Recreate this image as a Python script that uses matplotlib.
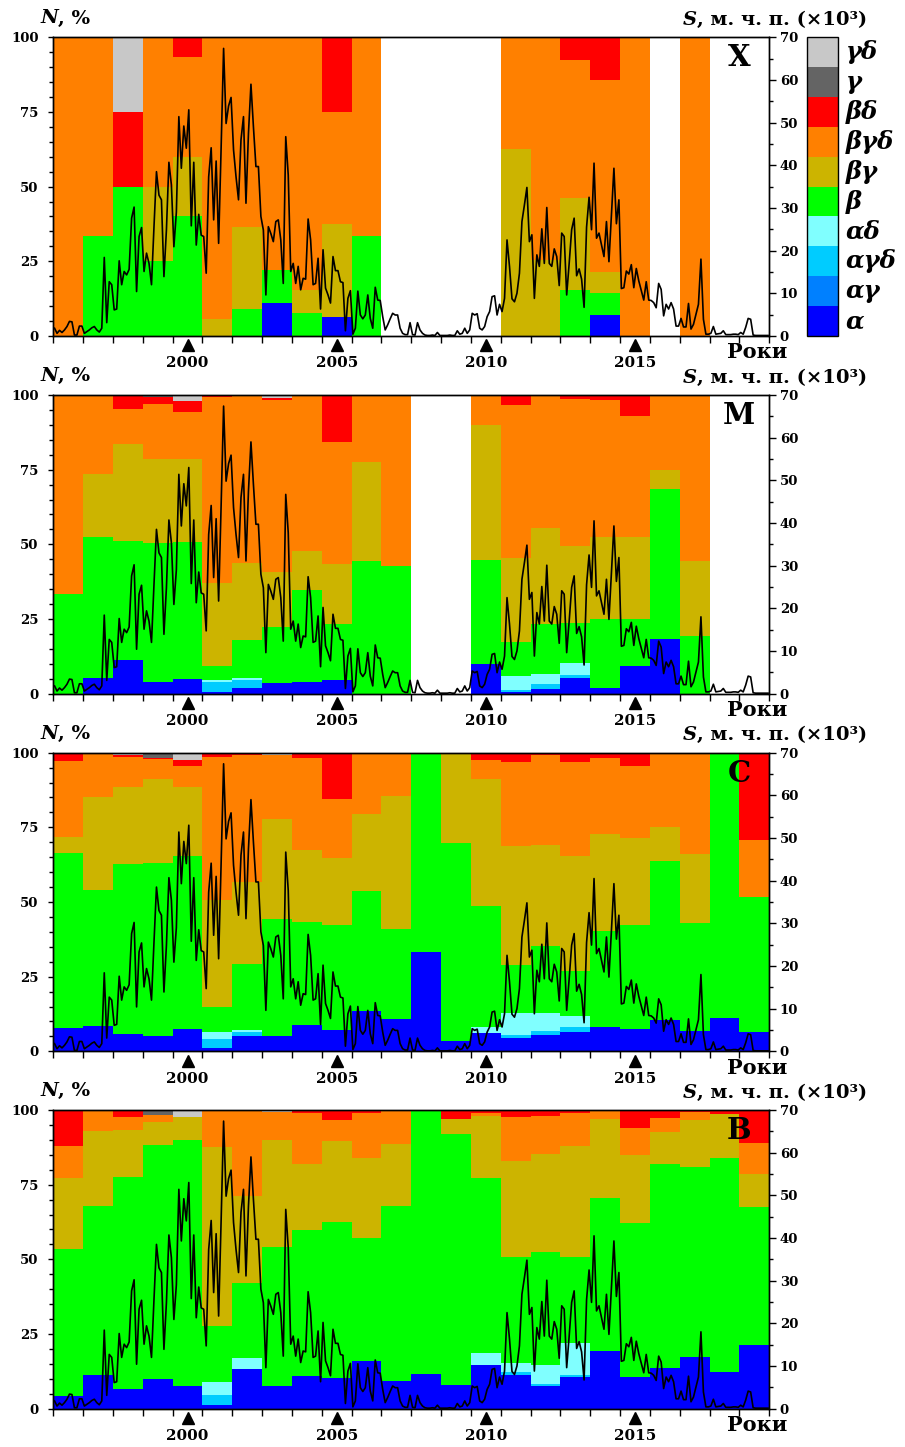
import numpy as np
import matplotlib
matplotlib.use("Agg")
import matplotlib.pyplot as plt
from matplotlib.patches import Rectangle
from matplotlib.ticker import MultipleLocator
import matplotlib.transforms as mtransforms

plt.rcParams['font.family'] = ['DejaVu Serif']
plt.rcParams['font.weight'] = 'bold'

# ---------------- data ----------------
years = list(range(1996, 2020))
classes = ['α', 'αγ', 'αγδ', 'αδ', 'β', 'βγ', 'βγδ', 'βδ', 'γ', 'γδ']
class_colors = ['#0000ff', '#0080ff', '#00ccff', '#80ffff', '#00ff00',
                '#ccb400', '#ff8000', '#ff0000', '#646464', '#c8c8c8']
label_years = [2000, 2005, 2010, 2015]
panel_letters = ['Х', 'М', 'С', 'В']
Z = [0] * 24

# Panel X
X_a   = [0, 0, 0, 0, 0, 0, 0, 11.1, 0, 6.25, 0, 0, 0, 0, 0, 0, 0, 0, 7.1, 0, 0, 0, 0, 0]
X_b   = [0, 33.3, 50, 25, 40, 0, 9.1, 11.1, 7.7, 0, 33.3, 0, 0, 0, 0, 0, 0, 15.4, 7.2, 0, 0, 0, 0, 0]
X_bg  = [0, 0, 0, 25, 20, 5.6, 27.3, 0, 7.7, 31.25, 0, 0, 0, 0, 0, 62.5, 25.4, 30.8, 7.1, 0, 0, 0, 0, 0]
X_bgd = [100, 66.7, 0, 50, 33.3, 94.4, 63.6, 77.8, 84.6, 37.5, 66.7, 0, 0, 0, 0, 37.5, 74.6, 46.2, 64.3, 100, 0, 100, 0, 0]
X_bd  = [0, 0, 25, 0, 6.7, 0, 0, 0, 0, 25, 0, 0, 0, 0, 0, 0, 0, 7.6, 14.3, 0, 0, 0, 0, 0]
X_gd  = [0, 0, 25, 0, 0, 0, 0, 0, 0, 0, 0, 0, 0, 0, 0, 0, 0, 0, 0, 0, 0, 0, 0, 0]

# Panel M
M_a   = [0, 5.3, 11.4, 3.8, 4.8, 0.4, 2.0, 3.4, 3.8, 4.5, 0, 0, 0, 0, 9.9, 0.6, 1.5, 5.2, 1.9, 9.1, 18.4, 0, 0, 0]
M_agd = [0, 0, 0, 0, 0, 3.5, 2.7, 0, 0, 0, 0, 0, 0, 0, 0, 0.5, 1.7, 1.0, 0, 0, 0, 0, 0, 0]
M_ad  = [0, 0, 0, 0, 0, 0.8, 0.6, 0, 0, 0, 0, 0, 0, 0, 0, 4.8, 3.2, 4.1, 0, 0, 0, 0, 0, 0]
M_b   = [33.3, 47.1, 39.7, 46.6, 45.9, 4.5, 12.7, 18.8, 30.9, 18.7, 44.4, 42.9, 0, 0, 35.0, 11.3, 16.8, 13.2, 23.0, 15.8, 50.0, 19.2, 0, 0]
M_bg  = [0, 21.3, 32.6, 28.0, 27.8, 27.9, 25.8, 18.6, 13.0, 20.3, 33.3, 0, 0, 0, 45.0, 28.2, 32.2, 26.0, 27.5, 27.5, 6.5, 25.1, 0, 0]
M_bgd = [66.7, 26.3, 11.6, 18.6, 15.8, 62.3, 56.2, 57.5, 52.3, 40.9, 22.3, 57.1, 0, 0, 10.1, 51.2, 44.6, 49.2, 45.9, 40.6, 25.1, 55.7, 0, 0]
M_bd  = [0, 0, 4.7, 2.2, 3.7, 0.6, 0, 0.8, 0, 15.6, 0, 0, 0, 0, 0, 3.4, 0, 1.3, 1.7, 7.0, 0, 0, 0, 0]
M_g   = [0, 0, 0, 0.8, 0, 0, 0, 0, 0, 0, 0, 0, 0, 0, 0, 0, 0, 0, 0, 0, 0, 0, 0, 0]
M_gd  = [0, 0, 0, 0, 2.0, 0, 0, 0.9, 0, 0, 0, 0, 0, 0, 0, 0, 0, 0, 0, 0, 0, 0, 0, 0]

# Panel C
C_a   = [7.8, 8.5, 5.8, 5.2, 7.4, 1.2, 5.2, 5.2, 8.7, 7.0, 13.4, 10.8, 33.3, 3.5, 6.1, 4.6, 5.4, 6.5, 8.1, 7.5, 10.5, 6.9, 11.0, 6.5]
C_agd = [0, 0, 0, 0, 0, 2.8, 1.2, 0, 0, 0, 0, 0, 0, 0, 0, 1.0, 1.5, 1.5, 0, 0, 0, 0, 0, 0]
C_ad  = [0, 0, 0, 0, 0, 2.6, 0.9, 0, 0, 0, 0, 0, 0, 0, 2.0, 7.2, 6.0, 3.9, 0, 0, 0, 0, 0, 0]
C_b   = [58.5, 45.4, 56.9, 57.9, 58.0, 8.1, 21.9, 39.2, 34.7, 35.4, 40.3, 30.2, 66.7, 66.3, 40.4, 16.0, 22.2, 15.0, 32.3, 34.9, 53.2, 36.1, 89.0, 45.2]
C_bg  = [5.5, 31.2, 25.8, 28.0, 23.1, 35.9, 27.4, 33.4, 24.0, 22.4, 25.8, 44.5, 0, 30.2, 42.6, 40.0, 34.0, 38.6, 32.4, 28.9, 11.4, 23.1, 0, 0]
C_bgd = [25.4, 14.9, 10.0, 6.8, 7.1, 47.9, 42.6, 21.5, 30.9, 19.7, 20.5, 14.5, 0, 0, 6.4, 28.2, 30.0, 31.4, 25.4, 24.1, 24.4, 33.9, 0, 19.1]
C_bd  = [2.8, 0, 0.8, 0.3, 2.0, 1.5, 0.8, 0, 1.7, 15.5, 0, 0, 0, 0, 2.5, 3.0, 0.9, 3.1, 1.8, 4.6, 0.5, 0, 0, 29.2]
C_g   = [0, 0, 0, 1.8, 0, 0, 0, 0, 0, 0, 0, 0, 0, 0, 0, 0, 0, 0, 0, 0, 0, 0, 0, 0]
C_gd  = [0, 0, 0.7, 0, 2.4, 0, 0, 0.7, 0, 0, 0, 0, 0, 0, 0, 0, 0, 0, 0, 0, 0, 0, 0, 0]

# Panel B
B_a   = [4.2, 11.2, 6.6, 9.9, 7.6, 1.3, 13.2, 7.6, 10.9, 10.3, 16.1, 9.4, 11.5, 7.9, 14.7, 11.1, 7.5, 10.6, 19.4, 10.6, 13.5, 17.2, 12.2, 21.3]
B_agd = [0, 0, 0, 0, 0, 3.3, 0, 0, 0, 0, 0, 0, 0, 0, 0, 1.3, 0.8, 0.7, 0, 0, 0, 0, 0, 0]
B_ad  = [0, 0, 0, 0, 0, 4.3, 3.8, 0, 0, 0, 0, 0, 0, 0, 3.8, 3.0, 6.2, 10.6, 0, 0, 0, 0, 0, 0]
B_b   = [49.3, 56.6, 71.1, 78.4, 82.4, 18.8, 25.1, 46.6, 49.0, 52.2, 41.0, 58.4, 88.5, 84.0, 58.8, 35.4, 38.0, 28.8, 51.0, 51.6, 68.3, 63.8, 71.7, 46.2]
B_bg  = [23.8, 25.3, 15.6, 7.8, 7.8, 59.8, 29.0, 35.7, 22.0, 27.1, 26.9, 20.8, 0, 5.1, 20.7, 32.1, 32.6, 37.2, 26.6, 22.7, 10.8, 15.6, 14.6, 11.0]
B_bgd = [10.6, 6.9, 4.5, 2.2, 0, 12.5, 28.9, 9.5, 17.2, 7.0, 15.1, 11.4, 0, 0, 0.9, 14.9, 12.9, 11.0, 3.0, 9.2, 4.6, 2.6, 0, 10.4]
B_bd  = [12.1, 0, 2.2, 0, 0, 0, 0, 0, 0.9, 3.4, 0.9, 0, 0, 3.0, 1.1, 2.2, 2.0, 1.1, 0, 5.9, 2.8, 0.8, 1.5, 11.1]
B_g   = [0, 0, 0, 1.7, 0, 0, 0, 0, 0, 0, 0, 0, 0, 0, 0, 0, 0, 0, 0, 0, 0, 0, 0, 0]
B_gd  = [0, 0, 0, 0, 2.2, 0, 0, 0.6, 0, 0, 0, 0, 0, 0, 0, 0, 0, 0, 0, 0, 0, 0, 0, 0]

# Monthly sunspot area S (x10^3 millionths of hemisphere)
S_1996 = [1.8, 0.6, 1.3, 0.8, 1.4, 2.2, 3.4, 3.3, 0.2, 0.2, 2.3, 2.3]
S_1997 = [0.6, 1.0, 1.4, 1.9, 2.2, 1.4, 0.9, 1.8, 18.4, 3.1, 12.7, 12.0]
S_1998 = [6.1, 6.3, 17.6, 12.0, 15.1, 14.3, 15.6, 27.6, 30.2, 10.4, 23.3, 25.4]
S_1999 = [15.1, 19.4, 17.0, 12.0, 25.6, 38.5, 33.0, 31.9, 13.9, 24.8, 40.7, 35.4]
S_2000 = [20.9, 29.0, 51.4, 39.3, 49.2, 44.0, 53.0, 25.8, 40.7, 21.3, 28.5, 23.6]
S_2001 = [23.3, 14.7, 37.3, 44.1, 27.2, 41.0, 21.7, 44.0, 67.4, 49.8, 53.9, 55.9]
S_2002 = [43.6, 37.3, 31.9, 46.0, 51.4, 31.1, 47.5, 59.0, 49.0, 39.7, 39.7, 28.0]
S_2003 = [24.8, 9.6, 25.6, 24.0, 22.1, 26.8, 27.2, 22.5, 12.3, 46.7, 37.7, 15.1]
S_2004 = [17.0, 12.3, 16.3, 10.8, 13.5, 13.3, 27.4, 22.5, 12.0, 12.3, 18.2, 6.3]
S_2005 = [20.2, 11.2, 9.6, 7.7, 18.6, 15.3, 15.3, 12.7, 12.5, 1.2, 8.8, 10.6]
S_2006 = [0.4, 1.8, 10.5, 4.9, 4.0, 4.9, 9.6, 4.1, 1.8, 11.4, 8.4, 8.3]
S_2007 = [4.5, 1.4, 2.6, 4.0, 5.3, 4.9, 4.9, 1.8, 0.6, 0.3, 0.3, 3.1]
S_2008 = [0.3, 0.2, 3.1, 1.4, 0.6, 0.2, 0.1, 0.1, 0.2, 0.1, 0.8, 0.1]
S_2009 = [0.1, 0.1, 0.1, 0.2, 0.1, 0.1, 1.2, 0.4, 0.6, 1.8, 0.6, 1.4]
S_2010 = [5.3, 4.9, 5.2, 1.8, 1.4, 2.2, 4.5, 5.7, 9.2, 9.4, 4.9, 7.4]
S_2011 = [5.7, 8.8, 22.5, 16.3, 8.7, 8.0, 10.0, 14.7, 26.8, 30.7, 34.8, 22.1]
S_2012 = [23.7, 8.8, 19.0, 16.3, 25.1, 17.0, 30.1, 17.0, 16.3, 20.4, 18.6, 11.8]
S_2013 = [24.1, 23.3, 9.6, 17.0, 24.9, 27.6, 14.1, 15.7, 13.3, 6.7, 25.5, 32.5]
S_2014 = [24.9, 40.5, 22.9, 24.1, 21.4, 18.6, 26.8, 17.4, 28.4, 39.3, 26.3, 31.9]
S_2015 = [11.1, 11.3, 15.2, 14.5, 16.7, 11.3, 15.8, 12.9, 10.6, 8.4, 12.7, 8.4]
S_2016 = [8.3, 7.8, 6.6, 12.3, 10.9, 4.7, 7.4, 6.3, 7.8, 6.3, 2.3, 2.3]
S_2017 = [4.1, 2.1, 2.1, 7.6, 1.6, 2.7, 5.1, 7.4, 18.0, 3.9, 0.4, 0.4]
S_2018 = [0.6, 2.2, 0.4, 0.5, 0.6, 1.2, 0.3, 0.3, 0.3, 0.4, 0.4, 0.3]
S_2019 = [0.8, 0.4, 2.0, 4.1, 3.9, 0.2, 0.1, 0.1, 0.1, 0.1, 0.1, 0.1]

S_years = [S_1996, S_1997, S_1998, S_1999, S_2000, S_2001, S_2002, S_2003,
           S_2004, S_2005, S_2006, S_2007, S_2008, S_2009, S_2010, S_2011,
           S_2012, S_2013, S_2014, S_2015, S_2016, S_2017, S_2018, S_2019]

panels = [
    [X_a, Z, Z, Z, X_b, X_bg, X_bgd, X_bd, Z, X_gd],
    [M_a, Z, M_agd, M_ad, M_b, M_bg, M_bgd, M_bd, M_g, M_gd],
    [C_a, Z, C_agd, C_ad, C_b, C_bg, C_bgd, C_bd, C_g, C_gd],
    [B_a, Z, B_agd, B_ad, B_b, B_bg, B_bgd, B_bd, B_g, B_gd],
]

S_vals = np.concatenate([np.array(v, dtype=float) for v in S_years])
S_time = np.array([y + (m + 0.5) / 12.0 for y in years for m in range(12)])

# ---------------- figure ----------------
W, H = 905, 1447
fig = plt.figure(figsize=(W / 100, H / 100), dpi=100)
renderer = fig.canvas.get_renderer()

left_px, right_px = 53.3, 769.3
tops_px = [37.3, 395.0, 752.7, 1110.0]
height_px = 298.6


def italic_prefix_label(ax, x, y, letter, rest, ha, size):
    """Bold-italic letter followed by bold upright text."""
    if ha == 'right':
        t = ax.text(x, y, rest, transform=ax.transAxes, ha='right', va='center',
                    fontsize=size, fontweight='bold')
        bb = t.get_window_extent(renderer)
        xa = ax.transAxes.inverted().transform((bb.x0, bb.y0))[0]
        ax.text(xa, y, letter, transform=ax.transAxes, ha='right', va='center',
                fontsize=size, fontweight='bold', fontstyle='italic')
    else:
        t = ax.text(x, y, letter, transform=ax.transAxes, ha='left', va='center',
                    fontsize=size, fontweight='bold', fontstyle='italic')
        bb = t.get_window_extent(renderer)
        xa = ax.transAxes.inverted().transform((bb.x1, bb.y0))[0]
        ax.text(xa, y, rest, transform=ax.transAxes, ha='left', va='center',
                fontsize=size, fontweight='bold')


for p, (stack, letter, top) in enumerate(zip(panels, panel_letters, tops_px)):
    ax = fig.add_axes([left_px / W, 1 - (top + height_px) / H,
                       (right_px - left_px) / W, height_px / H])
    bottom = np.zeros(len(years))
    for vals, col in zip(stack, class_colors):
        v = np.array(vals, dtype=float)
        ax.bar(years, v, width=1.0, align='edge', bottom=bottom,
               color=col, linewidth=0)
        bottom += v
    ax.set_xlim(1996, 2020)
    ax.set_ylim(0, 100)
    ax.set_xticks(range(1996, 2021))
    ax.set_xticklabels([])
    ax.yaxis.set_major_locator(MultipleLocator(25))
    ax.yaxis.set_minor_locator(MultipleLocator(5))
    ax.tick_params(axis='x', direction='out', length=5, width=1)
    ax.tick_params(axis='y', which='major', direction='out', length=3.5,
                   width=1, labelsize=9.5, pad=7)
    ax.tick_params(axis='y', which='minor', direction='out', length=3, width=1)
    for sp in ax.spines.values():
        sp.set_linewidth(1.0)

    ax2 = ax.twinx()
    ax2.plot(S_time, S_vals, color='black', lw=1.2)
    ax2.set_ylim(0, 70)
    ax2.set_xlim(1996, 2020)
    ax2.yaxis.set_major_locator(MultipleLocator(10))
    ax2.yaxis.set_minor_locator(MultipleLocator(5))
    ax2.tick_params(axis='y', which='major', direction='out', length=5,
                    width=1, labelsize=9.5, pad=2.5)
    ax2.tick_params(axis='y', which='minor', direction='out', length=3, width=1)
    for sp in ax2.spines.values():
        sp.set_linewidth(1.0)

    trans = mtransforms.blended_transform_factory(ax.transData, ax.transAxes)
    ax.plot([y + 0.5 for y in label_years], [-0.032] * len(label_years),
            linestyle='none', marker='^', color='black', markersize=9,
            transform=trans, clip_on=False)
    for y in label_years:
        ax.text(y + 0.5, -0.092, str(y), transform=trans, ha='center',
                va='center', fontsize=11, fontweight='bold')

    ax.text(0.9835, -0.055, 'Роки', transform=ax.transAxes, ha='center',
            va='center', fontsize=15, fontweight='bold')
    italic_prefix_label(ax, -0.018, 1.063, 'N', ', %', 'left', 14)
    italic_prefix_label(ax, 1.137, 1.058, 'S', ', м. ч. п. (×10³)', 'right', 14)
    ax.text(0.958, 0.931, letter, transform=ax.transAxes, ha='center',
            va='center', fontsize=21, fontweight='bold')

    if p == 0:
        x0 = (806.7 - left_px) / (right_px - left_px)
        wbox = 31.6 / (right_px - left_px)
        for i, (cls, col) in enumerate(zip(classes, class_colors)):
            ax.add_patch(Rectangle((x0, i / 10), wbox, 0.1, transform=ax.transAxes,
                                   facecolor=col, edgecolor='none', clip_on=False))
            ax.text(x0 + wbox + 0.010, (i + 0.5) / 10, cls, transform=ax.transAxes,
                    ha='left', va='center', fontsize=17.5,
                    fontweight='bold', fontstyle='italic')
        ax.add_patch(Rectangle((x0, 0), wbox, 1.0, transform=ax.transAxes,
                               facecolor='none', edgecolor='black', lw=1.0,
                               clip_on=False))

fig.savefig('out.png', dpi=100)
